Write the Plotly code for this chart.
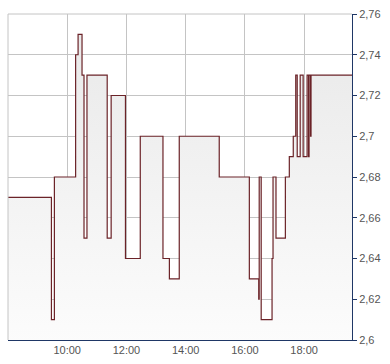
import plotly.graph_objects as go

day = "2024-01-05 "
times = ["08:00", "09:28", "09:34", "10:17", "10:22", "10:30", "10:34", "10:40",
         "11:21", "11:29", "11:58", "12:28", "13:14", "13:27", "13:47", "15:08",
         "16:09", "16:28", "16:29", "16:33", "16:55", "16:57", "17:03", "17:22",
         "17:30", "17:38", "17:43", "17:46", "17:52", "17:58", "18:06", "18:09",
         "18:10", "18:13", "18:14", "19:37"]
prices = [2.67, 2.61, 2.68, 2.74, 2.75, 2.73, 2.65, 2.73,
          2.65, 2.72, 2.64, 2.70, 2.64, 2.63, 2.70, 2.68,
          2.63, 2.62, 2.68, 2.61, 2.64, 2.68, 2.65, 2.68,
          2.69, 2.70, 2.73, 2.69, 2.73, 2.69, 2.73, 2.69,
          2.73, 2.70, 2.73, 2.73]

x_tick_vals = ["10:00", "12:00", "14:00", "16:00", "18:00"]
y_tick_vals = [2.60, 2.62, 2.64, 2.66, 2.68, 2.70, 2.72, 2.74, 2.76]
y_tick_text = ["2,6", "2,62", "2,64", "2,66", "2,68", "2,7", "2,72", "2,74", "2,76"]

x = [day + t for t in times]
x_start, x_end = day + "08:00", day + "19:37"

fig = go.Figure()
fig.add_trace(go.Scatter(
    x=x, y=prices, mode="lines", line=dict(shape="hv", color="#6b2328", width=1.2),
    fill="tozeroy",
    fillgradient=dict(type="vertical", start=2.60, stop=2.76,
                      colorscale=[[0, "#fcfcfc"], [1, "#e8e8e8"]]),
    hoverinfo="skip", showlegend=False,
))

axis_col = "#1f3766"
grid_col = "#c4c4c4"
fig.update_layout(
    width=390, height=364,
    margin=dict(l=8, r=38, t=11, b=24),
    paper_bgcolor="white", plot_bgcolor="white",
    font=dict(family="Liberation Sans, Arial, sans-serif", size=11, color="#555555"),
    xaxis=dict(
        type="date", range=[x_start, x_end],
        tickvals=[day + t for t in x_tick_vals], ticktext=x_tick_vals,
        showgrid=True, gridcolor=grid_col, gridwidth=1,
        showline=True, linecolor=axis_col, linewidth=1,
        ticks="", zeroline=False, fixedrange=True,
    ),
    yaxis=dict(
        side="right", range=[2.60, 2.76],
        tickvals=y_tick_vals, ticktext=y_tick_text,
        showgrid=True, gridcolor=grid_col, gridwidth=1,
        showline=True, linecolor=axis_col, linewidth=1,
        ticks="outside", ticklen=4, tickcolor=axis_col,
        zeroline=False, fixedrange=True,
    ),
    shapes=[
        dict(type="line", xref="paper", yref="paper", x0=0, x1=0, y0=0, y1=1,
             line=dict(color=grid_col, width=1), layer="above"),
        dict(type="line", xref="paper", yref="paper", x0=0, x1=1, y0=1, y1=1,
             line=dict(color=grid_col, width=1), layer="below"),
    ],
)

fig.write_html("out.html")
